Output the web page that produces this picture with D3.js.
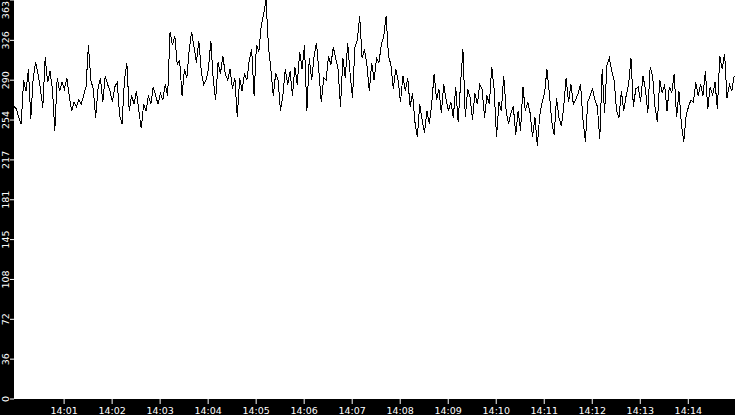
<!DOCTYPE html>
<html><head><meta charset="utf-8">
<script src="https://cdn.jsdelivr.net/npm/d3@7"></script>
<style>html,body{margin:0;padding:0;background:#000;overflow:hidden}svg{display:block}</style>
</head><body><svg id="c" width="735" height="415"></svg>
<script>
// Sampled series (one value every stepSeconds, starting at startTime)
const values = [
 266,264,256,250,290,280,300,255,292,306,296,282,265,311,288,298,282,244,292,280,
 288,282,292,276,262,270,266,272,268,276,284,322,290,282,256,282,292,270,294,286,
 280,270,284,288,258,250,290,306,262,276,268,280,262,246,268,262,276,268,284,276,
 268,278,272,286,276,334,322,330,304,308,276,300,292,318,334,320,306,326,298,286,
 290,300,326,290,272,306,296,312,296,290,300,282,292,256,292,280,296,290,308,318,
 276,322,316,340,350,363,320,300,276,296,290,262,276,300,286,298,276,302,286,316,
 300,322,262,310,290,312,324,298,270,292,290,312,304,320,310,300,266,310,292,324,
 296,274,320,326,348,310,318,304,280,306,290,310,306,322,330,348,312,304,282,300,
 290,270,294,280,292,266,278,252,238,268,254,242,262,250,268,296,272,282,260,286,
 272,262,270,256,284,252,286,318,256,282,274,254,278,268,286,282,256,276,268,302,
 282,238,270,262,294,262,250,260,266,240,262,244,284,262,270,260,238,256,230,258,
 270,278,300,278,252,240,274,256,248,266,292,270,286,268,272,278,286,254,234,270,
 276,282,272,266,236,300,260,304,310,298,290,262,256,280,262,276,286,310,266,282,
 284,270,294,282,260,302,294,266,252,290,278,286,262,284,278,296,256,280,250,234,
 258,266,272,270,288,276,286,276,298,264,284,276,288,264,312,300,314,274,286,280,294
];
const startTime = "13:59:58";
const endTime = "14:14:59";
const stepSeconds = 3;
const xTickLabels = ["14:01","14:02","14:03","14:04","14:05","14:06","14:07","14:08","14:09","14:10","14:11","14:12","14:13","14:14"];
const yMax = 363;
const yTickValues = [0,36.3,72.6,108.9,145.2,181.5,217.8,254.1,290.4,326.7,363];

const W = 735, H = 415;
const left = 14, bottom = 399;
const parseT = d3.timeParse("%H:%M:%S");
const parseHM = d3.timeParse("%H:%M");
const t0 = parseT(startTime), t1 = parseT(endTime);
const data = values.map((v, i) => ({t: new Date(t0.getTime() + i * stepSeconds * 1000), v}));

const x = d3.scaleTime().domain([t0, t1]).range([left, W]);
const y = d3.scaleLinear().domain([0, yMax]).range([bottom - 0.5, 0]);

const svg = d3.select("#c");
svg.append("rect").attr("width", W).attr("height", H).attr("fill", "#000");
svg.append("rect").attr("x", left).attr("y", 0).attr("width", W - left).attr("height", bottom).attr("fill", "#fff");

const line = d3.line().x(d => x(d.t)).y(d => y(d.v));
svg.append("path").datum(data).attr("d", line)
  .attr("fill", "none").attr("stroke", "#000").attr("stroke-width", 1)
  .attr("shape-rendering", "crispEdges");

// X axis
const xAxis = d3.axisBottom(x)
  .tickValues(xTickLabels.map(parseHM))
  .tickFormat(d3.timeFormat("%H:%M"))
  .tickSize(5).tickPadding(2);
const gx = svg.append("g").attr("transform", `translate(0,${bottom})`).call(xAxis);
gx.select(".domain").remove();
gx.selectAll("line").attr("stroke", "#fff");
gx.selectAll("text").attr("fill", "#fff").attr("font-family", "DejaVu Sans").attr("font-size", 9.5)
  .attr("dy", null).attr("y", 15);

// Y axis
const yAxis = d3.axisLeft(y).tickValues(yTickValues).tickFormat(d => String(Math.floor(d + 1e-9))).tickSize(4);
const gy = svg.append("g").attr("transform", `translate(${left},0)`).call(yAxis);
gy.select(".domain").remove();
gy.selectAll("line").attr("stroke", "#fff");
gy.selectAll("text").attr("fill", "#fff").attr("font-family", "DejaVu Sans").attr("font-size", 9.5)
  .attr("x", null).attr("dy", null)
  .attr("text-anchor", (d, i) => i === yTickValues.length - 1 ? "end" : "middle")
  .attr("transform", (d, i) => i === yTickValues.length - 1 ? `translate(-5,1) rotate(-90)` : `translate(-5,0) rotate(-90)`)
  .attr("y", 0);
gy.selectAll(".tick").filter((d, i) => i === yTickValues.length - 1)
  .attr("transform", "translate(0,0)");
</script></body></html>
